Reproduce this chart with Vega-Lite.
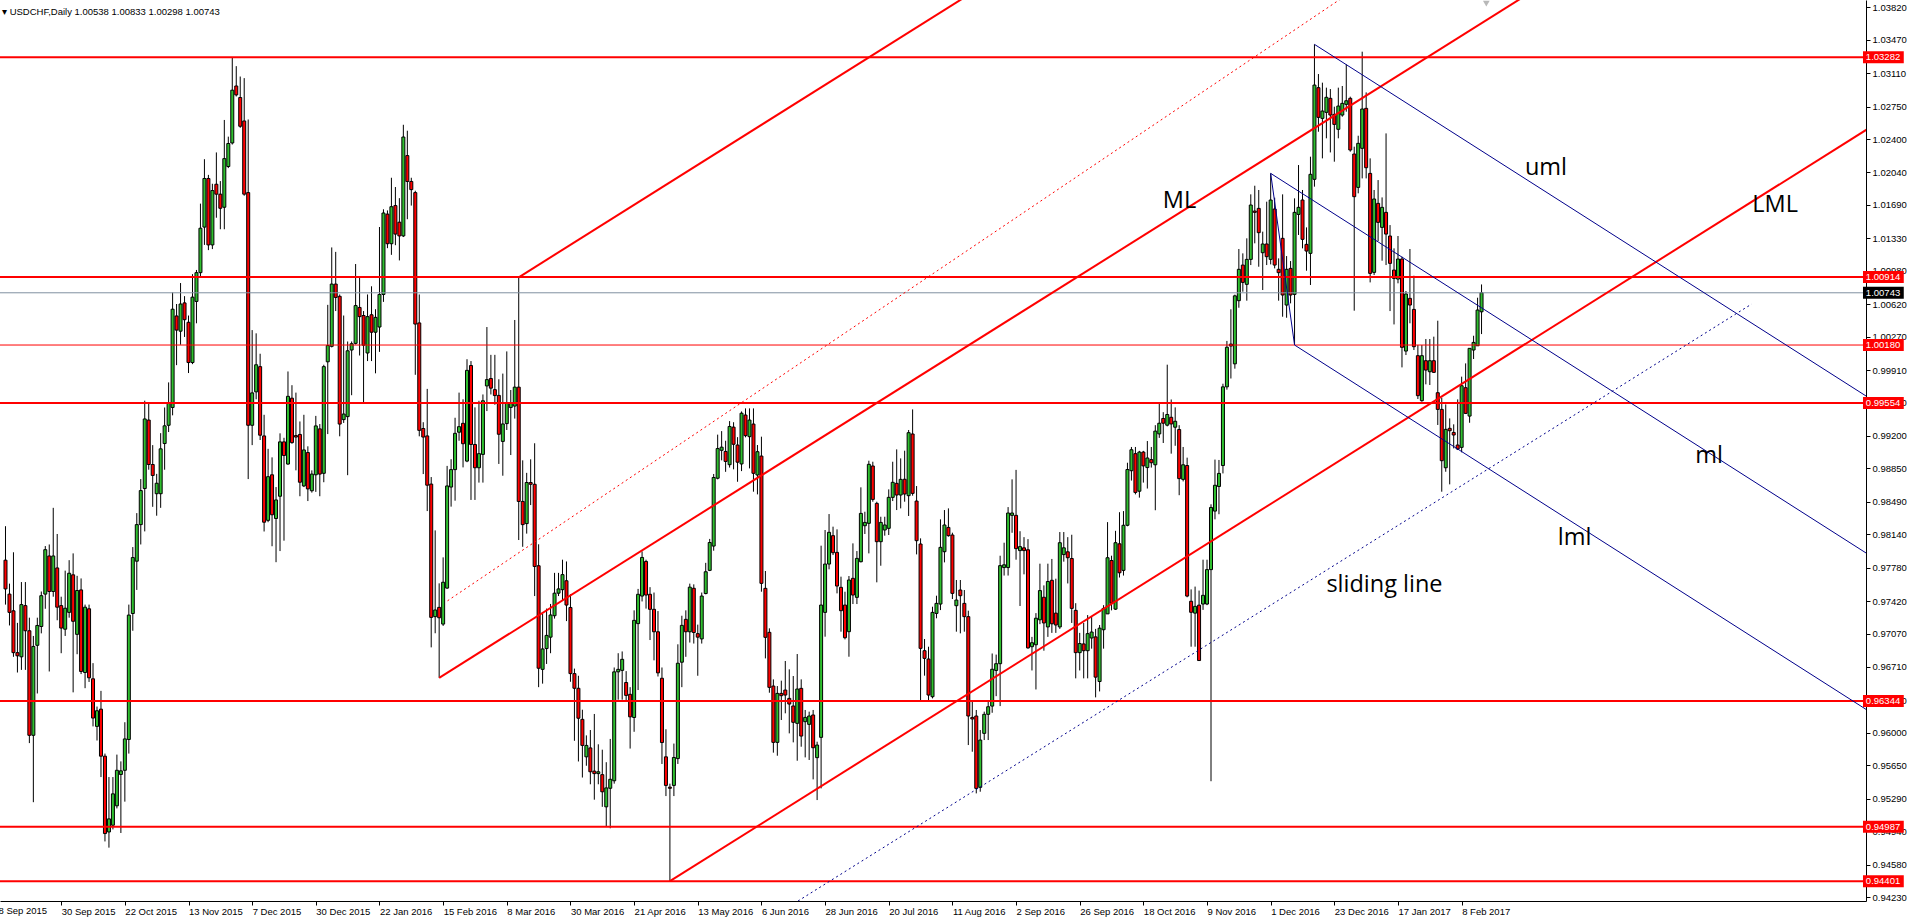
{
"$schema":"https://vega.github.io/schema/vega-lite/v6.json",
"width":1866,"height":901,
"autosize":{"type":"none"},
"padding":{"left":0,"top":0,"right":45,"bottom":20},
"background":"white",
"config":{"view":{"stroke":null},"axis":{"labelFont":"Liberation Sans","labelFontSize":9.5,"labelColor":"#000","domainColor":"#000","domainWidth":1,"tickColor":"#000","grid":false,"labelOverlap":false,"labelFlush":false}},
"title":{"text":"▾ USDCHF,Daily  1.00538 1.00833 1.00298 1.00743","anchor":"start","frame":"group","orient":"top","offset":0,"dx":2,"dy":24,"baseline":"alphabetic","font":"Liberation Sans","fontSize":9.5,"fontWeight":"normal","color":"#000"},
"datasets":{
"candles":[
{"i":0,"o":0.97861,"h":0.98227,"l":0.97382,"c":0.97551},
{"i":1,"o":0.97495,"h":0.97608,"l":0.97157,"c":0.97298},
{"i":2,"o":0.97315,"h":0.97946,"l":0.96819,"c":0.96864},
{"i":3,"o":0.96864,"h":0.97185,"l":0.9665,"c":0.9683},
{"i":4,"o":0.96819,"h":0.97625,"l":0.96678,"c":0.97382},
{"i":5,"o":0.97371,"h":0.97625,"l":0.96678,"c":0.971},
{"i":6,"o":0.971,"h":0.97241,"l":0.95889,"c":0.95973},
{"i":7,"o":0.95973,"h":0.97044,"l":0.95252,"c":0.96931},
{"i":8,"o":0.96943,"h":0.97241,"l":0.96424,"c":0.97157},
{"i":9,"o":0.97146,"h":0.97523,"l":0.97072,"c":0.97478},
{"i":10,"o":0.97495,"h":0.98013,"l":0.97337,"c":0.97974},
{"i":11,"o":0.97906,"h":0.9803,"l":0.96661,"c":0.97523},
{"i":12,"o":0.97523,"h":0.98425,"l":0.97467,"c":0.97906},
{"i":13,"o":0.97777,"h":0.98143,"l":0.97213,"c":0.97354},
{"i":14,"o":0.97371,"h":0.97467,"l":0.96858,"c":0.97129},
{"i":15,"o":0.97117,"h":0.97748,"l":0.97044,"c":0.97343},
{"i":16,"o":0.97298,"h":0.97861,"l":0.97241,"c":0.9772},
{"i":17,"o":0.97703,"h":0.97934,"l":0.96436,"c":0.97202},
{"i":18,"o":0.97061,"h":0.97692,"l":0.96847,"c":0.97534},
{"i":19,"o":0.9754,"h":0.97664,"l":0.96633,"c":0.96661},
{"i":20,"o":0.9665,"h":0.97382,"l":0.96481,"c":0.97354},
{"i":21,"o":0.97337,"h":0.97382,"l":0.96548,"c":0.96593},
{"i":22,"o":0.96582,"h":0.96751,"l":0.96069,"c":0.96159},
{"i":23,"o":0.96069,"h":0.96283,"l":0.95917,"c":0.96238},
{"i":24,"o":0.96255,"h":0.96452,"l":0.95523,"c":0.95748},
{"i":25,"o":0.95748,"h":0.95776,"l":0.94829,"c":0.94914},
{"i":26,"o":0.94931,"h":0.95523,"l":0.94762,"c":0.95072},
{"i":27,"o":0.95004,"h":0.95523,"l":0.94959,"c":0.95342},
{"i":28,"o":0.95213,"h":0.95765,"l":0.95185,"c":0.95596},
{"i":29,"o":0.95551,"h":0.95692,"l":0.9492,"c":0.9559},
{"i":30,"o":0.95596,"h":0.96114,"l":0.95258,"c":0.95934},
{"i":31,"o":0.95928,"h":0.97382,"l":0.95776,"c":0.97269},
{"i":32,"o":0.97286,"h":0.98002,"l":0.971,"c":0.97889},
{"i":33,"o":0.9785,"h":0.98368,"l":0.9754,"c":0.98244},
{"i":34,"o":0.98244,"h":0.98735,"l":0.9803,"c":0.98611},
{"i":35,"o":0.98633,"h":0.9958,"l":0.98171,"c":0.99383},
{"i":36,"o":0.99371,"h":0.99552,"l":0.98836,"c":0.98892},
{"i":37,"o":0.98892,"h":0.99101,"l":0.98436,"c":0.98774},
{"i":38,"o":0.98577,"h":0.98791,"l":0.9834,"c":0.9869},
{"i":39,"o":0.98577,"h":0.9923,"l":0.98425,"c":0.99061},
{"i":40,"o":0.99118,"h":0.99507,"l":0.98836,"c":0.99309},
{"i":41,"o":0.99315,"h":0.99777,"l":0.99242,"c":0.99552},
{"i":42,"o":0.99507,"h":1.00746,"l":0.99422,"c":1.00566},
{"i":43,"o":1.00493,"h":1.00622,"l":0.99963,"c":1.00341},
{"i":44,"o":1.00329,"h":1.00848,"l":1.00183,"c":1.00622},
{"i":45,"o":1.00634,"h":1.00707,"l":1.00267,"c":1.00453},
{"i":46,"o":1.00425,"h":1.00498,"l":0.99878,"c":0.99991},
{"i":47,"o":0.99991,"h":1.00944,"l":0.99974,"c":1.00696},
{"i":48,"o":1.0065,"h":1.00989,"l":1.00414,"c":1.0096},
{"i":49,"o":1.0096,"h":1.01704,"l":1.00904,"c":1.01439},
{"i":50,"o":1.01451,"h":1.02183,"l":1.01259,"c":1.01975},
{"i":51,"o":1.01975,"h":1.02014,"l":1.01203,"c":1.01259},
{"i":52,"o":1.01259,"h":1.01918,"l":1.01214,"c":1.01845},
{"i":53,"o":1.01913,"h":1.02256,"l":1.01552,"c":1.01806},
{"i":54,"o":1.01806,"h":1.01947,"l":1.01428,"c":1.01654},
{"i":55,"o":1.01665,"h":1.02606,"l":1.01428,"c":1.02189},
{"i":56,"o":1.02104,"h":1.02426,"l":1.02087,"c":1.02352},
{"i":57,"o":1.02358,"h":1.03282,"l":1.02341,"c":1.02927},
{"i":58,"o":1.02972,"h":1.03186,"l":1.02859,"c":1.02876},
{"i":59,"o":1.02848,"h":1.03074,"l":1.02521,"c":1.02538},
{"i":60,"o":1.02595,"h":1.03057,"l":1.01789,"c":1.01806},
{"i":61,"o":1.01823,"h":1.02611,"l":0.98735,"c":0.99315},
{"i":62,"o":0.99315,"h":1.00341,"l":0.99101,"c":0.99664},
{"i":63,"o":0.99675,"h":1.00306,"l":0.99595,"c":0.99967},
{"i":64,"o":0.99947,"h":1.00086,"l":0.99156,"c":0.99208},
{"i":65,"o":0.992,"h":0.99428,"l":0.9817,"c":0.9827},
{"i":66,"o":0.9829,"h":0.99061,"l":0.9827,"c":0.98761},
{"i":67,"o":0.98781,"h":0.98969,"l":0.98011,"c":0.9835},
{"i":68,"o":0.9831,"h":0.98649,"l":0.97839,"c":0.9851},
{"i":69,"o":0.9855,"h":0.99228,"l":0.97959,"c":0.99136},
{"i":70,"o":0.99136,"h":0.9918,"l":0.98071,"c":0.98989},
{"i":71,"o":0.98897,"h":0.99895,"l":0.98889,"c":0.99627},
{"i":72,"o":0.99607,"h":0.99747,"l":0.99116,"c":0.99128},
{"i":73,"o":0.99204,"h":0.99667,"l":0.98829,"c":0.99188},
{"i":74,"o":0.99216,"h":0.99356,"l":0.9855,"c":0.98701},
{"i":75,"o":0.98661,"h":0.99428,"l":0.98649,"c":0.99049},
{"i":76,"o":0.99021,"h":0.99088,"l":0.98498,"c":0.98629},
{"i":77,"o":0.98609,"h":0.98829,"l":0.98589,"c":0.98789},
{"i":78,"o":0.98781,"h":0.99416,"l":0.98597,"c":0.99308},
{"i":79,"o":0.99276,"h":0.99328,"l":0.9855,"c":0.98789},
{"i":80,"o":0.98797,"h":0.99967,"l":0.98701,"c":0.99947},
{"i":81,"o":0.99999,"h":1.00613,"l":0.9922,"c":1.00174},
{"i":82,"o":1.00166,"h":1.01232,"l":1.00154,"c":1.00837},
{"i":83,"o":1.00837,"h":1.01184,"l":1.00546,"c":1.00693},
{"i":84,"o":1.00705,"h":1.00725,"l":0.99196,"c":0.99328},
{"i":85,"o":0.99376,"h":1.00498,"l":0.9934,"c":0.99436},
{"i":86,"o":0.99408,"h":1.00218,"l":0.98777,"c":1.00118},
{"i":87,"o":1.00126,"h":1.00218,"l":0.99639,"c":1.00194},
{"i":88,"o":1.00198,"h":1.01053,"l":1.00186,"c":1.00605},
{"i":89,"o":1.00585,"h":1.00905,"l":1.00067,"c":1.00486},
{"i":90,"o":1.00498,"h":1.00546,"l":0.9956,"c":1.00178},
{"i":91,"o":1.00094,"h":1.00725,"l":1.00007,"c":1.00486},
{"i":92,"o":1.00506,"h":1.00813,"l":1.00007,"c":1.00318},
{"i":93,"o":1.00318,"h":1.00566,"l":0.99875,"c":1.00478},
{"i":94,"o":1.00374,"h":1.01452,"l":1.00106,"c":1.00725},
{"i":95,"o":1.00725,"h":1.01643,"l":1.00645,"c":1.01603},
{"i":96,"o":1.01591,"h":1.01631,"l":1.01224,"c":1.01272},
{"i":97,"o":1.01272,"h":1.01983,"l":1.01152,"c":1.01671},
{"i":98,"o":1.01683,"h":1.01883,"l":1.01256,"c":1.01376},
{"i":99,"o":1.01504,"h":1.01763,"l":1.01092,"c":1.01356},
{"i":100,"o":1.01356,"h":1.02554,"l":1.01344,"c":1.02422},
{"i":101,"o":1.02222,"h":1.0249,"l":1.01536,"c":1.01943},
{"i":102,"o":1.01943,"h":1.01983,"l":1.01683,"c":1.01855},
{"i":103,"o":1.01823,"h":1.01843,"l":0.99859,"c":1.00406},
{"i":104,"o":1.00418,"h":1.00725,"l":0.99196,"c":0.9926},
{"i":105,"o":0.9928,"h":0.99348,"l":0.98789,"c":0.99188},
{"i":106,"o":0.992,"h":0.99707,"l":0.9839,"c":0.98669},
{"i":107,"o":0.98681,"h":0.98757,"l":0.96921,"c":0.97244},
{"i":108,"o":0.97252,"h":0.98182,"l":0.97073,"c":0.97324},
{"i":109,"o":0.97352,"h":0.97611,"l":0.96593,"c":0.9724},
{"i":110,"o":0.97172,"h":0.97891,"l":0.97152,"c":0.97623},
{"i":111,"o":0.9756,"h":0.98877,"l":0.97552,"c":0.98661},
{"i":112,"o":0.98649,"h":0.98949,"l":0.98438,"c":0.98837},
{"i":113,"o":0.98837,"h":0.99396,"l":0.98502,"c":0.99228},
{"i":114,"o":0.9924,"h":0.99667,"l":0.99148,"c":0.993},
{"i":115,"o":0.99336,"h":0.99595,"l":0.98861,"c":0.99116},
{"i":116,"o":0.98929,"h":1.00027,"l":0.98917,"c":0.99907},
{"i":117,"o":0.99959,"h":1.00007,"l":0.9851,"c":0.99108},
{"i":118,"o":0.99108,"h":0.99508,"l":0.9851,"c":0.98857},
{"i":119,"o":0.98857,"h":0.99579,"l":0.98697,"c":0.99009},
{"i":120,"o":0.99001,"h":0.99647,"l":0.98697,"c":0.99579},
{"i":121,"o":0.99739,"h":1.00374,"l":0.99468,"c":0.99807},
{"i":122,"o":0.99819,"h":1.00074,"l":0.99647,"c":0.99715},
{"i":123,"o":0.99699,"h":1.00074,"l":0.99536,"c":0.99635},
{"i":124,"o":0.99637,"h":0.99811,"l":0.98898,"c":0.99218},
{"i":125,"o":0.99141,"h":0.99872,"l":0.98771,"c":0.99329},
{"i":126,"o":0.99333,"h":1.00111,"l":0.99264,"c":0.99553},
{"i":127,"o":0.99507,"h":0.99695,"l":0.98994,"c":0.9956},
{"i":128,"o":0.99522,"h":1.0045,"l":0.99387,"c":0.99726},
{"i":129,"o":0.99726,"h":1.0091,"l":0.98078,"c":0.98494},
{"i":130,"o":0.98494,"h":0.98937,"l":0.98005,"c":0.98244},
{"i":131,"o":0.98255,"h":0.98802,"l":0.98147,"c":0.98698},
{"i":132,"o":0.98698,"h":0.98948,"l":0.98455,"c":0.98679},
{"i":133,"o":0.98679,"h":0.99121,"l":0.97474,"c":0.97793},
{"i":134,"o":0.97801,"h":0.98032,"l":0.96492,"c":0.96696},
{"i":135,"o":0.96684,"h":0.97281,"l":0.9653,"c":0.96904},
{"i":136,"o":0.96908,"h":0.97339,"l":0.96742,"c":0.9705},
{"i":137,"o":0.97031,"h":0.97389,"l":0.96858,"c":0.9727},
{"i":138,"o":0.97262,"h":0.97724,"l":0.97231,"c":0.97505},
{"i":139,"o":0.97505,"h":0.97724,"l":0.97474,"c":0.97551},
{"i":140,"o":0.97543,"h":0.97866,"l":0.97428,"c":0.97705},
{"i":141,"o":0.97639,"h":0.97847,"l":0.97204,"c":0.97377},
{"i":142,"o":0.97351,"h":0.97493,"l":0.9655,"c":0.96638},
{"i":143,"o":0.96638,"h":0.96692,"l":0.95914,"c":0.9648},
{"i":144,"o":0.9648,"h":0.96615,"l":0.95691,"c":0.96157},
{"i":145,"o":0.96145,"h":0.96249,"l":0.95518,"c":0.95864},
{"i":146,"o":0.95741,"h":0.95972,"l":0.95645,"c":0.95864},
{"i":147,"o":0.95837,"h":0.9603,"l":0.95445,"c":0.9558},
{"i":148,"o":0.95587,"h":0.96203,"l":0.95279,"c":0.9556},
{"i":149,"o":0.9556,"h":0.95876,"l":0.95445,"c":0.9558},
{"i":150,"o":0.95549,"h":0.95818,"l":0.95202,"c":0.95364},
{"i":151,"o":0.95202,"h":0.95683,"l":0.9499,"c":0.95406},
{"i":152,"o":0.95402,"h":0.95934,"l":0.94971,"c":0.95499},
{"i":153,"o":0.95483,"h":0.96704,"l":0.95452,"c":0.96657},
{"i":154,"o":0.96657,"h":0.96858,"l":0.96357,"c":0.96684},
{"i":155,"o":0.96673,"h":0.96877,"l":0.96357,"c":0.96792},
{"i":156,"o":0.96542,"h":0.96665,"l":0.96346,"c":0.96403},
{"i":157,"o":0.96415,"h":0.96492,"l":0.9583,"c":0.96172},
{"i":158,"o":0.96165,"h":0.9732,"l":0.96011,"c":0.97212},
{"i":159,"o":0.97177,"h":0.97551,"l":0.96461,"c":0.97493},
{"i":160,"o":0.97474,"h":0.97955,"l":0.97416,"c":0.9789},
{"i":161,"o":0.97847,"h":0.97866,"l":0.97339,"c":0.97485},
{"i":162,"o":0.97493,"h":0.9757,"l":0.97,"c":0.97331},
{"i":163,"o":0.97331,"h":0.97512,"l":0.96781,"c":0.97089},
{"i":164,"o":0.97089,"h":0.97312,"l":0.96607,"c":0.96646},
{"i":165,"o":0.96588,"h":0.96704,"l":0.95664,"c":0.95895},
{"i":166,"o":0.95741,"h":0.96038,"l":0.95318,"c":0.95433},
{"i":167,"o":0.95414,"h":0.95452,"l":0.94401,"c":0.95402},
{"i":168,"o":0.95433,"h":0.95884,"l":0.95318,"c":0.95734},
{"i":169,"o":0.95722,"h":0.96954,"l":0.95664,"c":0.9675},
{"i":170,"o":0.96761,"h":0.97262,"l":0.96492,"c":0.97158},
{"i":171,"o":0.97223,"h":0.9732,"l":0.96819,"c":0.97089},
{"i":172,"o":0.97089,"h":0.97608,"l":0.96973,"c":0.9757},
{"i":173,"o":0.97558,"h":0.976,"l":0.96962,"c":0.97081},
{"i":174,"o":0.97069,"h":0.97166,"l":0.96615,"c":0.97031},
{"i":175,"o":0.97012,"h":0.97512,"l":0.96962,"c":0.97474},
{"i":176,"o":0.97501,"h":0.97832,"l":0.97493,"c":0.97736},
{"i":177,"o":0.97751,"h":0.9809,"l":0.97743,"c":0.98051},
{"i":178,"o":0.98013,"h":0.9879,"l":0.97963,"c":0.98752},
{"i":179,"o":0.98744,"h":0.99214,"l":0.98732,"c":0.99064},
{"i":180,"o":0.99045,"h":0.99252,"l":0.98937,"c":0.99079},
{"i":181,"o":0.99033,"h":0.99148,"l":0.98813,"c":0.98925},
{"i":182,"o":0.9889,"h":0.9936,"l":0.98859,"c":0.99302},
{"i":183,"o":0.99295,"h":0.99348,"l":0.9884,"c":0.9911},
{"i":184,"o":0.99102,"h":0.99187,"l":0.98706,"c":0.98917},
{"i":185,"o":0.98898,"h":0.99464,"l":0.98821,"c":0.99445},
{"i":186,"o":0.99425,"h":0.99497,"l":0.99185,"c":0.99203},
{"i":187,"o":0.99192,"h":0.99497,"l":0.9885,"c":0.99371},
{"i":188,"o":0.99328,"h":0.99497,"l":0.98599,"c":0.98797},
{"i":189,"o":0.98779,"h":0.99102,"l":0.9857,"c":0.9903},
{"i":190,"o":0.98983,"h":0.99192,"l":0.97521,"c":0.97611},
{"i":191,"o":0.97557,"h":0.97744,"l":0.96802,"c":0.97029},
{"i":192,"o":0.97083,"h":0.97126,"l":0.96432,"c":0.9649},
{"i":193,"o":0.96504,"h":0.96576,"l":0.95786,"c":0.95897},
{"i":194,"o":0.95897,"h":0.96504,"l":0.95753,"c":0.96425},
{"i":195,"o":0.96425,"h":0.96562,"l":0.96138,"c":0.964},
{"i":196,"o":0.96461,"h":0.96774,"l":0.9621,"c":0.96407},
{"i":197,"o":0.96371,"h":0.96684,"l":0.95994,"c":0.9631},
{"i":198,"o":0.96289,"h":0.96612,"l":0.95897,"c":0.96113},
{"i":199,"o":0.96102,"h":0.96849,"l":0.95699,"c":0.96472},
{"i":200,"o":0.96479,"h":0.96576,"l":0.9585,"c":0.95965},
{"i":201,"o":0.9612,"h":0.96246,"l":0.95735,"c":0.96166},
{"i":202,"o":0.96091,"h":0.96228,"l":0.95707,"c":0.96181},
{"i":203,"o":0.96192,"h":0.96246,"l":0.95498,"c":0.95839},
{"i":204,"o":0.95732,"h":0.95904,"l":0.95275,"c":0.95868},
{"i":205,"o":0.95951,"h":0.98017,"l":0.95401,"c":0.97377},
{"i":206,"o":0.97298,"h":0.98186,"l":0.97036,"c":0.97819},
{"i":207,"o":0.97819,"h":0.98358,"l":0.97762,"c":0.98161},
{"i":208,"o":0.98125,"h":0.98222,"l":0.97916,"c":0.97941},
{"i":209,"o":0.97945,"h":0.98193,"l":0.97503,"c":0.97582},
{"i":210,"o":0.97568,"h":0.97683,"l":0.9709,"c":0.97316},
{"i":211,"o":0.97377,"h":0.97521,"l":0.97007,"c":0.97025},
{"i":212,"o":0.9709,"h":0.9769,"l":0.9682,"c":0.97647},
{"i":213,"o":0.97665,"h":0.98042,"l":0.97388,"c":0.97485},
{"i":214,"o":0.9746,"h":0.97959,"l":0.97388,"c":0.9788},
{"i":215,"o":0.97844,"h":0.98646,"l":0.97837,"c":0.98365},
{"i":216,"o":0.98232,"h":0.98383,"l":0.98143,"c":0.98268},
{"i":217,"o":0.98258,"h":0.98933,"l":0.97934,"c":0.98894},
{"i":218,"o":0.98876,"h":0.98922,"l":0.98491,"c":0.98516},
{"i":219,"o":0.98473,"h":0.98491,"l":0.97622,"c":0.9806},
{"i":220,"o":0.9806,"h":0.98329,"l":0.97801,"c":0.98268},
{"i":221,"o":0.98186,"h":0.98329,"l":0.98125,"c":0.9824},
{"i":222,"o":0.98204,"h":0.98624,"l":0.98132,"c":0.98538},
{"i":223,"o":0.98538,"h":0.98922,"l":0.98498,"c":0.987},
{"i":224,"o":0.98689,"h":0.99055,"l":0.98401,"c":0.98563},
{"i":225,"o":0.98563,"h":0.98958,"l":0.98419,"c":0.98732},
{"i":226,"o":0.98733,"h":0.99041,"l":0.98491,"c":0.98574},
{"i":227,"o":0.98556,"h":0.99264,"l":0.98337,"c":0.99235},
{"i":228,"o":0.99221,"h":0.99486,"l":0.98556,"c":0.98581},
{"i":229,"o":0.98498,"h":0.9866,"l":0.97923,"c":0.98071},
{"i":230,"o":0.98035,"h":0.98096,"l":0.96335,"c":0.9691},
{"i":231,"o":0.96885,"h":0.97011,"l":0.96616,"c":0.96802},
{"i":232,"o":0.96795,"h":0.96928,"l":0.96335,"c":0.96407},
{"i":233,"o":0.96389,"h":0.97359,"l":0.96371,"c":0.97298},
{"i":234,"o":0.97287,"h":0.97478,"l":0.97234,"c":0.97395},
{"i":235,"o":0.97388,"h":0.98301,"l":0.97323,"c":0.97999},
{"i":236,"o":0.97952,"h":0.98401,"l":0.97837,"c":0.9824},
{"i":237,"o":0.98214,"h":0.98419,"l":0.98114,"c":0.98125},
{"i":238,"o":0.98132,"h":0.98157,"l":0.97442,"c":0.97503},
{"i":239,"o":0.9737,"h":0.97647,"l":0.9709,"c":0.97431},
{"i":240,"o":0.97539,"h":0.97647,"l":0.97072,"c":0.97478},
{"i":241,"o":0.97395,"h":0.97539,"l":0.9709,"c":0.97252},
{"i":242,"o":0.97252,"h":0.97316,"l":0.95868,"c":0.96181},
{"i":243,"o":0.96166,"h":0.96346,"l":0.95796,"c":0.96149},
{"i":244,"o":0.96181,"h":0.96246,"l":0.95347,"c":0.95401},
{"i":245,"o":0.95412,"h":0.9603,"l":0.95365,"c":0.95922},
{"i":246,"o":0.95994,"h":0.96228,"l":0.95922,"c":0.96199},
{"i":247,"o":0.96199,"h":0.96335,"l":0.95922,"c":0.96281},
{"i":248,"o":0.96288,"h":0.96855,"l":0.96216,"c":0.96685},
{"i":249,"o":0.96672,"h":0.96843,"l":0.96395,"c":0.96745},
{"i":250,"o":0.96745,"h":0.97909,"l":0.96288,"c":0.97802},
{"i":251,"o":0.97781,"h":0.98049,"l":0.97695,"c":0.97811},
{"i":252,"o":0.97781,"h":0.98433,"l":0.97695,"c":0.98369},
{"i":253,"o":0.98344,"h":0.98732,"l":0.98156,"c":0.98369},
{"i":254,"o":0.98344,"h":0.98834,"l":0.97866,"c":0.97985},
{"i":255,"o":0.97964,"h":0.98173,"l":0.97367,"c":0.98007},
{"i":256,"o":0.97994,"h":0.98109,"l":0.97708,"c":0.97964},
{"i":257,"o":0.97973,"h":0.98088,"l":0.96907,"c":0.96915},
{"i":258,"o":0.96928,"h":0.97034,"l":0.96672,"c":0.96971},
{"i":259,"o":0.96949,"h":0.9729,"l":0.96467,"c":0.97235},
{"i":260,"o":0.97218,"h":0.97823,"l":0.97171,"c":0.97533},
{"i":261,"o":0.97461,"h":0.97589,"l":0.96885,"c":0.97184},
{"i":262,"o":0.97141,"h":0.97823,"l":0.97034,"c":0.97631},
{"i":263,"o":0.97644,"h":0.97874,"l":0.97077,"c":0.97175},
{"i":264,"o":0.9729,"h":0.97661,"l":0.97077,"c":0.97162},
{"i":265,"o":0.97141,"h":0.98164,"l":0.9712,"c":0.98049},
{"i":266,"o":0.97921,"h":0.98164,"l":0.97845,"c":0.97994},
{"i":267,"o":0.97951,"h":0.98109,"l":0.9761,"c":0.97887},
{"i":268,"o":0.97879,"h":0.98135,"l":0.97184,"c":0.97341},
{"i":269,"o":0.9732,"h":0.97397,"l":0.96587,"c":0.96864},
{"i":270,"o":0.96864,"h":0.97077,"l":0.96672,"c":0.96962},
{"i":271,"o":0.96958,"h":0.97184,"l":0.96587,"c":0.96885},
{"i":272,"o":0.96885,"h":0.97269,"l":0.96587,"c":0.97069},
{"i":273,"o":0.97022,"h":0.97248,"l":0.96907,"c":0.97086},
{"i":274,"o":0.97034,"h":0.9712,"l":0.96382,"c":0.966},
{"i":275,"o":0.96553,"h":0.97162,"l":0.96446,"c":0.97128},
{"i":276,"o":0.97111,"h":0.97376,"l":0.96907,"c":0.97341},
{"i":277,"o":0.97282,"h":0.98271,"l":0.97282,"c":0.97887},
{"i":278,"o":0.97857,"h":0.97909,"l":0.9732,"c":0.97397},
{"i":279,"o":0.97333,"h":0.98177,"l":0.97325,"c":0.98049},
{"i":280,"o":0.98037,"h":0.98378,"l":0.97674,"c":0.97725},
{"i":281,"o":0.97751,"h":0.9839,"l":0.97695,"c":0.98237},
{"i":282,"o":0.98237,"h":0.98911,"l":0.98226,"c":0.98838},
{"i":283,"o":0.98825,"h":0.99081,"l":0.98719,"c":0.99051},
{"i":284,"o":0.99009,"h":0.99081,"l":0.9857,"c":0.98591},
{"i":285,"o":0.98604,"h":0.99039,"l":0.98535,"c":0.99026},
{"i":286,"o":0.99026,"h":0.99039,"l":0.98697,"c":0.98877},
{"i":287,"o":0.98859,"h":0.99145,"l":0.98633,"c":0.98962},
{"i":288,"o":0.98945,"h":0.99081,"l":0.98859,"c":0.98911},
{"i":289,"o":0.98889,"h":0.99316,"l":0.98399,"c":0.99252},
{"i":290,"o":0.99222,"h":0.99559,"l":0.99179,"c":0.99337},
{"i":291,"o":0.99388,"h":0.99456,"l":0.99124,"c":0.99337},
{"i":292,"o":0.99316,"h":0.99968,"l":0.99303,"c":0.99431},
{"i":293,"o":0.99401,"h":0.99593,"l":0.99009,"c":0.99329},
{"i":294,"o":0.99294,"h":0.99508,"l":0.99094,"c":0.99358},
{"i":295,"o":0.99269,"h":0.99316,"l":0.98561,"c":0.9874},
{"i":296,"o":0.98732,"h":0.99081,"l":0.9871,"c":0.98889},
{"i":297,"o":0.98881,"h":0.98966,"l":0.97461,"c":0.97474},
{"i":298,"o":0.97418,"h":0.97546,"l":0.96928,"c":0.97299},
{"i":299,"o":0.9729,"h":0.97576,"l":0.96928,"c":0.97363},
{"i":300,"o":0.97376,"h":0.97533,"l":0.96779,"c":0.96779},
{"i":301,"o":0.97388,"h":0.97866,"l":0.97325,"c":0.97482},
{"i":302,"o":0.97388,"h":0.97866,"l":0.97376,"c":0.97759},
{"i":303,"o":0.97759,"h":0.98463,"l":0.95478,"c":0.98429},
{"i":304,"o":0.9839,"h":0.98945,"l":0.98301,"c":0.98668},
{"i":305,"o":0.98655,"h":0.98941,"l":0.98356,"c":0.98796},
{"i":306,"o":0.98881,"h":0.99763,"l":0.98796,"c":0.99729},
{"i":307,"o":0.99729,"h":1.00224,"l":0.99699,"c":1.00156},
{"i":308,"o":1.0019,"h":1.00565,"l":0.99819,"c":1.00169},
{"i":309,"o":0.99977,"h":1.00723,"l":0.99925,"c":1.0071},
{"i":310,"o":1.00658,"h":1.01215,"l":1.00582,"c":1.00996},
{"i":311,"o":1.01042,"h":1.01168,"l":1.00755,"c":1.00855},
{"i":312,"o":1.00834,"h":1.0133,"l":1.00658,"c":1.01103},
{"i":313,"o":1.01103,"h":1.01804,"l":1.01042,"c":1.01689},
{"i":314,"o":1.01624,"h":1.01897,"l":1.01276,"c":1.0161},
{"i":315,"o":1.01653,"h":1.01851,"l":1.01024,"c":1.01391},
{"i":316,"o":1.01175,"h":1.01402,"l":1.00773,"c":1.01269},
{"i":317,"o":1.01269,"h":1.01725,"l":1.01042,"c":1.01132},
{"i":318,"o":1.01103,"h":1.0203,"l":1.01049,"c":1.01743},
{"i":319,"o":1.01646,"h":1.01768,"l":1.01006,"c":1.01042},
{"i":320,"o":1.00996,"h":1.01114,"l":1.00658,"c":1.0096},
{"i":321,"o":1.0133,"h":1.01804,"l":1.00485,"c":1.00719},
{"i":322,"o":1.00611,"h":1.01139,"l":1.00474,"c":1.00996},
{"i":323,"o":1.01006,"h":1.01085,"l":1.00629,"c":1.00719},
{"i":324,"o":1.00726,"h":1.01761,"l":1.0018,"c":1.0161},
{"i":325,"o":1.01588,"h":1.0212,"l":1.01366,"c":1.01664},
{"i":326,"o":1.01743,"h":1.01851,"l":1.01222,"c":1.01319},
{"i":327,"o":1.01265,"h":1.01448,"l":1.00981,"c":1.01193},
{"i":328,"o":1.01168,"h":1.0221,"l":1.00827,"c":1.0202},
{"i":329,"o":1.01966,"h":1.03421,"l":1.01887,"c":1.02982},
{"i":330,"o":1.02954,"h":1.03101,"l":1.02479,"c":1.02634},
{"i":331,"o":1.02623,"h":1.03008,"l":1.02192,"c":1.02702},
{"i":332,"o":1.02688,"h":1.02954,"l":1.02408,"c":1.0285},
{"i":333,"o":1.02839,"h":1.02939,"l":1.02256,"c":1.02659},
{"i":334,"o":1.02666,"h":1.02749,"l":1.02156,"c":1.02558},
{"i":335,"o":1.02505,"h":1.02954,"l":1.02408,"c":1.02756},
{"i":336,"o":1.02659,"h":1.02972,"l":1.02641,"c":1.02785},
{"i":337,"o":1.02774,"h":1.03205,"l":1.02695,"c":1.02813},
{"i":338,"o":1.02839,"h":1.02857,"l":1.02264,"c":1.02282},
{"i":339,"o":1.02239,"h":1.02318,"l":1.0055,"c":1.01779},
{"i":340,"o":1.01879,"h":1.02436,"l":1.01815,"c":1.02354},
{"i":341,"o":1.023,"h":1.03342,"l":1.01976,"c":1.02724},
{"i":342,"o":1.02731,"h":1.02903,"l":1.01976,"c":1.02091},
{"i":343,"o":1.0203,"h":1.02192,"l":1.00855,"c":1.00952},
{"i":344,"o":1.00963,"h":1.01851,"l":1.00934,"c":1.01754},
{"i":345,"o":1.01707,"h":1.01958,"l":1.01301,"c":1.01502},
{"i":346,"o":1.01448,"h":1.01771,"l":1.01089,"c":1.01664},
{"i":347,"o":1.0161,"h":1.02461,"l":1.01042,"c":1.01376},
{"i":348,"o":1.01355,"h":1.01473,"l":1.00546,"c":1.0106},
{"i":349,"o":1.00988,"h":1.01222,"l":1.00402,"c":1.00898},
{"i":350,"o":1.00891,"h":1.01355,"l":1.00845,"c":1.01107},
{"i":351,"o":1.01107,"h":1.01132,"l":0.99939,"c":1.00155},
{"i":352,"o":1.00115,"h":1.00762,"l":1.00072,"c":1.0073},
{"i":353,"o":1.00683,"h":1.01215,"l":1.00414,"c":1.00611},
{"i":354,"o":1.00564,"h":1.00927,"l":1.00126,"c":1.00162},
{"i":355,"o":1.00065,"h":1.0018,"l":0.99598,"c":0.99634},
{"i":356,"o":0.9958,"h":1.0018,"l":0.99569,"c":1.00065},
{"i":357,"o":1.00011,"h":1.00245,"l":0.99756,"c":0.9991},
{"i":358,"o":0.99892,"h":1.00245,"l":0.99749,"c":1.00011},
{"i":359,"o":1.00011,"h":1.0027,"l":0.99881,"c":0.99885},
{"i":360,"o":0.99666,"h":1.00442,"l":0.99318,"c":0.99486},
{"i":361,"o":0.99486,"h":0.99612,"l":0.98599,"c":0.98933},
{"i":362,"o":0.98857,"h":0.9954,"l":0.98814,"c":0.99271},
{"i":363,"o":0.99282,"h":0.99389,"l":0.98678,"c":0.99256},
{"i":364,"o":0.99238,"h":0.99325,"l":0.99066,"c":0.9921},
{"i":365,"o":0.99102,"h":0.99594,"l":0.99048,"c":0.99059},
{"i":366,"o":0.99077,"h":0.99839,"l":0.99023,"c":0.99741},
{"i":367,"o":0.9972,"h":0.99982,"l":0.99436,"c":0.99443},
{"i":368,"o":0.99414,"h":1.00144,"l":0.99342,"c":1.00144},
{"i":369,"o":1.00126,"h":1.0028,"l":1.00029,"c":1.00208},
{"i":370,"o":1.00172,"h":1.0069,"l":1.00172,"c":1.00557},
{"i":371,"o":1.00538,"h":1.00833,"l":1.00298,"c":1.00743}
],
"levels":[{"p":1.03282},{"p":1.00914},{"p":0.99554},{"p":0.96344},{"p":0.94987},{"p":0.94401}],
"minor":[{"p":1.0018}],
"bid":[{"p":1.00743}],
"redfork":[
{"i":129,"p":1.0091,"i2":260,"p2":1.04438},
{"i":109,"p":0.96593,"i2":400,"p2":1.0443},
{"i":167,"p":0.94401,"i2":470,"p2":1.02561}
],
"reddot":[{"i":111.1,"p":0.97423,"i2":340,"p2":1.04038}],
"bluefork":[
{"i":329,"p":1.03421,"i2":470,"p2":0.99566},
{"i":318,"p":1.0203,"i2":470,"p2":0.97874},
{"i":324,"p":1.0018,"i2":470,"p2":0.96188},
{"i":318,"p":1.0203,"i2":324,"p2":1.0018}
],
"bluedot":[{"i":199.2,"p":0.94187,"i2":438.9,"p2":1.00622}],
"notes":[
{"i":295.1,"p":1.01661,"t":"ML"},
{"i":387.2,"p":1.02012,"t":"uml"},
{"i":444.8,"p":1.01617,"t":"LML"},
{"i":428.2,"p":0.98905,"t":"ml"},
{"i":394.4,"p":0.98024,"t":"lml"},
{"i":346.6,"p":0.97521,"t":"sliding line"}
],
"edgelabel":[{"i":-2,"t":"8 Sep 2015"}],
"shift":[{"i":372.2,"p":1.0386}]
},
"layer":[
{"data":{"name":"candles"},"mark":{"type":"rule","color":"#000","strokeWidth":1},
 "encoding":{
  "x":{"field":"i","type":"quantitative","title":null,"scale":{"domain":[-0.125,466.375],"nice":false,"zero":false},
   "axis":{"orient":"bottom","values":[14,30,46,62,78,94,110,126,142,158,174,190,206,222,238,254,270,286,302,318,334,350,366],"tickCount":60,
    "labelExpr":"['8 Sep 2015','30 Sep 2015','22 Oct 2015','13 Nov 2015','7 Dec 2015','30 Dec 2015','22 Jan 2016','15 Feb 2016','8 Mar 2016','30 Mar 2016','21 Apr 2016','13 May 2016','6 Jun 2016','28 Jun 2016','20 Jul 2016','11 Aug 2016','2 Sep 2016','26 Sep 2016','18 Oct 2016','9 Nov 2016','1 Dec 2016','23 Dec 2016','17 Jan 2017','8 Feb 2017'][round((datum.value+2)/16)]",
    "tickSize":4,"labelAlign":"left","labelDx":1,"labelPadding":1,"labelOverlap":false,"labelFlush":false,"labelBound":false,"title":null}},
  "y":{"field":"l","type":"quantitative","title":null,"scale":{"domain":[0.94187,1.03899],"nice":false,"zero":false},
   "axis":{"orient":"right","values":[1.0382,1.0347,1.0311,1.0275,1.024,1.0204,1.0169,1.0133,1.0098,1.0062,1.0027,0.9991,0.9956,0.992,0.9885,0.9849,0.9814,0.9778,0.9742,0.9707,0.9671,0.9635,0.96,0.9565,0.9529,0.9494,0.9458,0.9423],"tickCount":60,
    "format":".5f","tickSize":4,"labelPadding":2,"labelAlign":"left","labelBaseline":"middle","labelOverlap":false,"labelFlush":false,"labelBound":false,"title":null}},
  "y2":{"field":"h"}}},
{"data":{"name":"candles"},"mark":{"type":"bar","width":3,"stroke":"#000","strokeWidth":1},
 "encoding":{
  "x":{"field":"i","type":"quantitative","title":null,"scale":{"domain":[-0.125,466.375],"nice":false,"zero":false}},
  "y":{"field":"o","type":"quantitative","title":null,"scale":{"domain":[0.94187,1.03899],"nice":false,"zero":false}},
  "y2":{"field":"c"},
  "fill":{"condition":{"test":"datum.c >= datum.o","value":"#2fbf2f"},"value":"#ff0000"}}},
{"data":{"name":"levels"},"mark":{"type":"rule","color":"#ff0000","strokeWidth":2},
 "encoding":{"y":{"field":"p","type":"quantitative","title":null,"scale":{"domain":[0.94187,1.03899],"nice":false,"zero":false}}}},
{"data":{"name":"minor"},"mark":{"type":"rule","color":"#ff0000","strokeWidth":1},
 "encoding":{"y":{"field":"p","type":"quantitative","title":null,"scale":{"domain":[0.94187,1.03899],"nice":false,"zero":false}}}},
{"data":{"name":"bid"},"mark":{"type":"rule","color":"#8090a0","strokeWidth":1},
 "encoding":{"y":{"field":"p","type":"quantitative","title":null,"scale":{"domain":[0.94187,1.03899],"nice":false,"zero":false}}}},
{"data":{"name":"redfork"},"mark":{"type":"rule","color":"#ff0000","strokeWidth":2,"clip":true},
 "encoding":{
  "x":{"field":"i","type":"quantitative","title":null,"scale":{"domain":[-0.125,466.375],"nice":false,"zero":false}},
  "x2":{"field":"i2"},
  "y":{"field":"p","type":"quantitative","title":null,"scale":{"domain":[0.94187,1.03899],"nice":false,"zero":false}},
  "y2":{"field":"p2"}}},
{"data":{"name":"reddot"},"mark":{"type":"rule","color":"#ff0000","strokeWidth":1,"strokeDash":[2,3],"clip":true},
 "encoding":{
  "x":{"field":"i","type":"quantitative","title":null,"scale":{"domain":[-0.125,466.375],"nice":false,"zero":false}},
  "x2":{"field":"i2"},
  "y":{"field":"p","type":"quantitative","title":null,"scale":{"domain":[0.94187,1.03899],"nice":false,"zero":false}},
  "y2":{"field":"p2"}}},
{"data":{"name":"bluefork"},"mark":{"type":"rule","color":"#00008b","strokeWidth":1,"clip":true},
 "encoding":{
  "x":{"field":"i","type":"quantitative","title":null,"scale":{"domain":[-0.125,466.375],"nice":false,"zero":false}},
  "x2":{"field":"i2"},
  "y":{"field":"p","type":"quantitative","title":null,"scale":{"domain":[0.94187,1.03899],"nice":false,"zero":false}},
  "y2":{"field":"p2"}}},
{"data":{"name":"bluedot"},"mark":{"type":"rule","color":"#00008b","strokeWidth":1,"strokeDash":[2,3],"clip":true},
 "encoding":{
  "x":{"field":"i","type":"quantitative","title":null,"scale":{"domain":[-0.125,466.375],"nice":false,"zero":false}},
  "x2":{"field":"i2"},
  "y":{"field":"p","type":"quantitative","title":null,"scale":{"domain":[0.94187,1.03899],"nice":false,"zero":false}},
  "y2":{"field":"p2"}}},
{"data":{"name":"notes"},"mark":{"type":"text","font":"Open Sans","fontSize":23.5,"align":"center","baseline":"alphabetic","color":"#000"},
 "encoding":{
  "x":{"field":"i","type":"quantitative","title":null,"scale":{"domain":[-0.125,466.375],"nice":false,"zero":false}},
  "y":{"field":"p","type":"quantitative","title":null,"scale":{"domain":[0.94187,1.03899],"nice":false,"zero":false}},
  "text":{"field":"t"}}},
{"data":{"name":"edgelabel"},"mark":{"type":"text","font":"Liberation Sans","fontSize":9.5,"align":"left","baseline":"top","color":"#000","dx":1,"yOffset":5,"clip":false},
 "encoding":{
  "x":{"field":"i","type":"quantitative","title":null,"scale":{"domain":[-0.125,466.375],"nice":false,"zero":false}},
  "y":{"datum":0.94187,"type":"quantitative","scale":{"domain":[0.94187,1.03899],"nice":false,"zero":false}},
  "text":{"field":"t"}}},
{"data":{"name":"shift"},"mark":{"type":"point","shape":"triangle-down","size":45,"filled":true,"color":"#9a9a9a","clip":false},
 "encoding":{
  "x":{"field":"i","type":"quantitative","title":null,"scale":{"domain":[-0.125,466.375],"nice":false,"zero":false}},
  "y":{"field":"p","type":"quantitative","title":null,"scale":{"domain":[0.94187,1.03899],"nice":false,"zero":false}}}},
{"data":{"name":"levels"},"mark":{"type":"rect","color":"#ff0000","yOffset":-6,"y2Offset":6},
 "encoding":{
  "x":{"datum":466.875,"type":"quantitative","scale":{"domain":[-0.125,466.375],"nice":false,"zero":false}},
  "x2":{"datum":477.125},
  "y":{"field":"p","type":"quantitative","title":null,"scale":{"domain":[0.94187,1.03899],"nice":false,"zero":false}},
  "y2":{"field":"p"}}},
{"data":{"name":"minor"},"mark":{"type":"rect","color":"#ff0000","yOffset":-6,"y2Offset":6},
 "encoding":{
  "x":{"datum":466.875,"type":"quantitative","scale":{"domain":[-0.125,466.375],"nice":false,"zero":false}},
  "x2":{"datum":477.125},
  "y":{"field":"p","type":"quantitative","title":null,"scale":{"domain":[0.94187,1.03899],"nice":false,"zero":false}},
  "y2":{"field":"p"}}},
{"data":{"name":"bid"},"mark":{"type":"rect","color":"#000000","yOffset":-6,"y2Offset":6},
 "encoding":{
  "x":{"datum":466.875,"type":"quantitative","scale":{"domain":[-0.125,466.375],"nice":false,"zero":false}},
  "x2":{"datum":477.125},
  "y":{"field":"p","type":"quantitative","title":null,"scale":{"domain":[0.94187,1.03899],"nice":false,"zero":false}},
  "y2":{"field":"p"}}},
{"data":{"name":"levels"},"mark":{"type":"text","color":"#ffffff","align":"left","baseline":"middle","font":"Liberation Sans","fontSize":9.5},
 "encoding":{
  "x":{"datum":467.6,"type":"quantitative","scale":{"domain":[-0.125,466.375],"nice":false,"zero":false}},
  "y":{"field":"p","type":"quantitative","title":null,"scale":{"domain":[0.94187,1.03899],"nice":false,"zero":false}},
  "text":{"field":"p","type":"quantitative","format":".5f"}}},
{"data":{"name":"minor"},"mark":{"type":"text","color":"#ffffff","align":"left","baseline":"middle","font":"Liberation Sans","fontSize":9.5},
 "encoding":{
  "x":{"datum":467.6,"type":"quantitative","scale":{"domain":[-0.125,466.375],"nice":false,"zero":false}},
  "y":{"field":"p","type":"quantitative","title":null,"scale":{"domain":[0.94187,1.03899],"nice":false,"zero":false}},
  "text":{"field":"p","type":"quantitative","format":".5f"}}},
{"data":{"name":"bid"},"mark":{"type":"text","color":"#ffffff","align":"left","baseline":"middle","font":"Liberation Sans","fontSize":9.5},
 "encoding":{
  "x":{"datum":467.6,"type":"quantitative","scale":{"domain":[-0.125,466.375],"nice":false,"zero":false}},
  "y":{"field":"p","type":"quantitative","title":null,"scale":{"domain":[0.94187,1.03899],"nice":false,"zero":false}},
  "text":{"field":"p","type":"quantitative","format":".5f"}}}
]
}
